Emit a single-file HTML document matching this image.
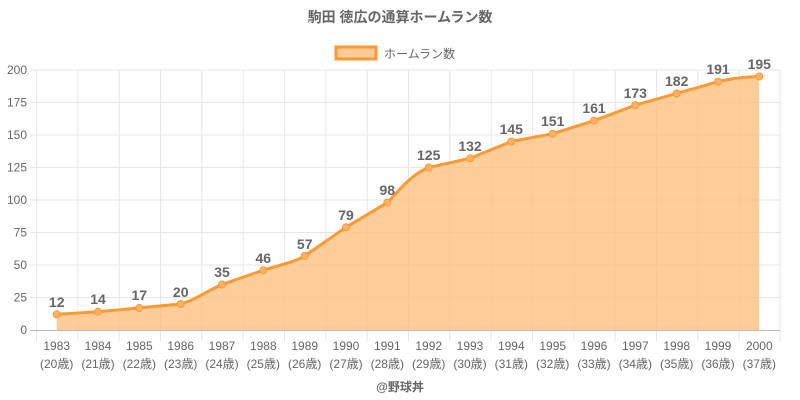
<!DOCTYPE html>
<html><head><meta charset="utf-8"><style>
body{margin:0;background:#fff;}
svg{display:block;font-family:"Liberation Sans","Noto Sans CJK JP",sans-serif;}
</style></head><body>
<svg width="800" height="400" viewBox="0 0 800 400">
<rect width="800" height="400" fill="#fff"/>
<text x="400" y="22" text-anchor="middle" font-size="14" font-weight="bold" fill="#666">駒田 徳広の通算ホームラン数</text>
<rect x="336" y="47" width="40" height="12" fill="#ffcc99" stroke="#ff9933" stroke-width="3"/>
<text x="384" y="58" font-size="12" fill="#666">ホームラン数</text>
<g stroke="#e6e6e6" stroke-width="1">
<line x1="36" y1="70" x2="780" y2="70"/><line x1="36" y1="102.5" x2="780" y2="102.5"/><line x1="36" y1="135" x2="780" y2="135"/><line x1="36" y1="167.5" x2="780" y2="167.5"/><line x1="36" y1="200" x2="780" y2="200"/><line x1="36" y1="232.5" x2="780" y2="232.5"/><line x1="36" y1="265" x2="780" y2="265"/><line x1="36" y1="297.5" x2="780" y2="297.5"/>
<line x1="36.5" y1="70" x2="36.5" y2="341"/><line x1="77.8" y1="70" x2="77.8" y2="341"/><line x1="119.2" y1="70" x2="119.2" y2="341"/><line x1="160.5" y1="70" x2="160.5" y2="341"/><line x1="201.8" y1="70" x2="201.8" y2="341"/><line x1="243.2" y1="70" x2="243.2" y2="341"/><line x1="284.5" y1="70" x2="284.5" y2="341"/><line x1="325.8" y1="70" x2="325.8" y2="341"/><line x1="367.2" y1="70" x2="367.2" y2="341"/><line x1="408.5" y1="70" x2="408.5" y2="341"/><line x1="449.8" y1="70" x2="449.8" y2="341"/><line x1="491.2" y1="70" x2="491.2" y2="341"/><line x1="532.5" y1="70" x2="532.5" y2="341"/><line x1="573.8" y1="70" x2="573.8" y2="341"/><line x1="615.2" y1="70" x2="615.2" y2="341"/><line x1="656.5" y1="70" x2="656.5" y2="341"/><line x1="697.8" y1="70" x2="697.8" y2="341"/><line x1="739.2" y1="70" x2="739.2" y2="341"/><line x1="780" y1="70" x2="780" y2="341"/>
<line x1="30" y1="70" x2="36" y2="70"/><line x1="30" y1="102.5" x2="36" y2="102.5"/><line x1="30" y1="135" x2="36" y2="135"/><line x1="30" y1="167.5" x2="36" y2="167.5"/><line x1="30" y1="200" x2="36" y2="200"/><line x1="30" y1="232.5" x2="36" y2="232.5"/><line x1="30" y1="265" x2="36" y2="265"/><line x1="30" y1="297.5" x2="36" y2="297.5"/>
</g>
<line x1="30" y1="330.5" x2="780" y2="330.5" stroke="#bbb"/>
<g font-size="12" fill="#666" text-anchor="end">
<text x="27" y="74">200</text><text x="27" y="106.5">175</text><text x="27" y="139">150</text><text x="27" y="171.5">125</text><text x="27" y="204">100</text><text x="27" y="236.5">75</text><text x="27" y="269">50</text><text x="27" y="301.5">25</text><text x="27" y="334">0</text>
</g>
<path d="M56.7,314.4 L98,311.8 L139.3,307.9 L180.7,304 C195,300 205,292 222,284.5 L263.3,270.2 C280,265 295,262 304.7,255.9 L346,227.3 L387.3,202.6 C400,190 410,175 428.7,167.5 L470,158.4 L511.3,141.5 L552.7,133.7 L594,120.7 L635.3,105.1 L676.7,93.4 L718,81.7 C735,78 745,77 759.3,76.5 L759.3,330 L56.7,330 Z" fill="#ffc080" fill-opacity="0.8"/>
<path d="M56.7,314.4 L98,311.8 L139.3,307.9 L180.7,304 C195,300 205,292 222,284.5 L263.3,270.2 C280,265 295,262 304.7,255.9 L346,227.3 L387.3,202.6 C400,190 410,175 428.7,167.5 L470,158.4 L511.3,141.5 L552.7,133.7 L594,120.7 L635.3,105.1 L676.7,93.4 L718,81.7 C735,78 745,77 759.3,76.5" fill="none" stroke="#ff9933" stroke-width="3" stroke-linejoin="round"/>
<g fill="#ffb366" stroke="#ff9933" stroke-width="1">
<circle cx="56.7" cy="314.4" r="3.5"/><circle cx="98" cy="311.8" r="3.5"/><circle cx="139.3" cy="307.9" r="3.5"/><circle cx="180.7" cy="304" r="3.5"/><circle cx="222" cy="284.5" r="3.5"/><circle cx="263.3" cy="270.2" r="3.5"/><circle cx="304.7" cy="255.9" r="3.5"/><circle cx="346" cy="227.3" r="3.5"/><circle cx="387.3" cy="202.6" r="3.5"/><circle cx="428.7" cy="167.5" r="3.5"/><circle cx="470" cy="158.4" r="3.5"/><circle cx="511.3" cy="141.5" r="3.5"/><circle cx="552.7" cy="133.7" r="3.5"/><circle cx="594" cy="120.7" r="3.5"/><circle cx="635.3" cy="105.1" r="3.5"/><circle cx="676.7" cy="93.4" r="3.5"/><circle cx="718" cy="81.7" r="3.5"/><circle cx="759.3" cy="76.5" r="3.5"/>
</g>
<g font-size="14" font-weight="bold" fill="#666" text-anchor="middle">
<text x="56.7" y="307">12</text><text x="98" y="304">14</text><text x="139.3" y="300">17</text><text x="180.7" y="297">20</text><text x="222" y="277">35</text><text x="263.3" y="263">46</text><text x="304.7" y="249">57</text><text x="346" y="220">79</text><text x="387.3" y="195">98</text><text x="428.7" y="160">125</text><text x="470" y="151">132</text><text x="511.3" y="134">145</text><text x="552.7" y="126">151</text><text x="594" y="113">161</text><text x="635.3" y="98">173</text><text x="676.7" y="86">182</text><text x="718" y="74">191</text><text x="759.3" y="69">195</text>
</g>
<g font-size="12" fill="#666" text-anchor="middle">
<text x="56.7" y="350">1983</text><text x="98" y="350">1984</text><text x="139.3" y="350">1985</text><text x="180.7" y="350">1986</text><text x="222" y="350">1987</text><text x="263.3" y="350">1988</text><text x="304.7" y="350">1989</text><text x="346" y="350">1990</text><text x="387.3" y="350">1991</text><text x="428.7" y="350">1992</text><text x="470" y="350">1993</text><text x="511.3" y="350">1994</text><text x="552.7" y="350">1995</text><text x="594" y="350">1996</text><text x="635.3" y="350">1997</text><text x="676.7" y="350">1998</text><text x="718" y="350">1999</text><text x="759.3" y="350">2000</text>
<text x="56.7" y="368">(20歳)</text><text x="98" y="368">(21歳)</text><text x="139.3" y="368">(22歳)</text><text x="180.7" y="368">(23歳)</text><text x="222" y="368">(24歳)</text><text x="263.3" y="368">(25歳)</text><text x="304.7" y="368">(26歳)</text><text x="346" y="368">(27歳)</text><text x="387.3" y="368">(28歳)</text><text x="428.7" y="368">(29歳)</text><text x="470" y="368">(30歳)</text><text x="511.3" y="368">(31歳)</text><text x="552.7" y="368">(32歳)</text><text x="594" y="368">(33歳)</text><text x="635.3" y="368">(34歳)</text><text x="676.7" y="368">(35歳)</text><text x="718" y="368">(36歳)</text><text x="759.3" y="368">(37歳)</text>
</g>
<text x="400" y="391" text-anchor="middle" font-size="12" font-weight="bold" fill="#666">@野球丼</text>
</svg>
</body></html>
